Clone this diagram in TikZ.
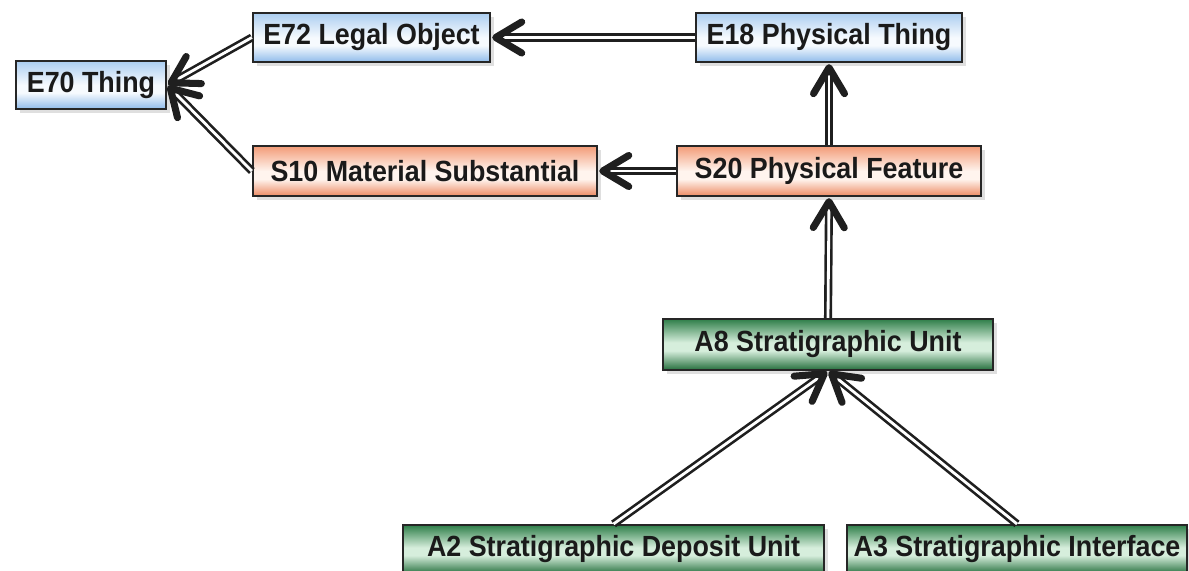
\documentclass[tikz,border=0pt]{standalone}
\usepackage{fontspec}
\setmainfont{Liberation Sans}[FakeStretch=0.92]
\usetikzlibrary{arrows.meta,shadows}
\definecolor{bluetop}{HTML}{ABCDF0}
\definecolor{bluemid}{HTML}{F6FAFE}
\definecolor{bluebot}{HTML}{8FBBEA}
\definecolor{ortop}{HTML}{F29B77}
\definecolor{ormid}{HTML}{FFF4EE}
\definecolor{orbot}{HTML}{EC8A63}
\definecolor{grtop}{HTML}{2F7E49}
\definecolor{grmid}{HTML}{D6EEDC}
\definecolor{grbot}{HTML}{246E3C}
\definecolor{txt}{HTML}{1A1A1A}
\pgfdeclareverticalshading{blueshade}{100bp}{color(0bp)=(bluebot); color(25bp)=(bluebot); color(42bp)=(bluemid); color(50bp)=(bluemid); color(75bp)=(bluetop); color(100bp)=(bluetop)}
\pgfdeclareverticalshading{orshade}{100bp}{color(0bp)=(orbot); color(25bp)=(orbot); color(42bp)=(ormid); color(50bp)=(ormid); color(75bp)=(ortop); color(100bp)=(ortop)}
\pgfdeclareverticalshading{grshade}{100bp}{color(0bp)=(grbot); color(25bp)=(grbot); color(44bp)=(grmid); color(52bp)=(grmid); color(75bp)=(grtop); color(100bp)=(grtop)}
\tikzset{
  box/.style={draw=black!85, line width=0.6pt, inner sep=0pt, text=txt,
    font=\fontsize{8.3}{9}\selectfont\bfseries,
    drop shadow={shadow xshift=1.2pt, shadow yshift=-1.2pt, opacity=0.25}},
  bluebox/.style={box, shading=blueshade, shading angle=0},
  orbox/.style={box, shading=orshade, shading angle=0},
  grbox/.style={box, shading=grshade, shading angle=0},
  isa/.style={draw=black!88, double=white, double distance=0.8pt, line width=0.75pt,
    -{Straight Barb[length=2.6mm, width=3.1mm, line width=2pt, round]},
    shorten >=0.3pt}
}
\begin{document}
\begin{tikzpicture}[x=0.01cm, y=-0.01cm]
\useasboundingbox (0,0) rectangle (1189,570);
\fill[white] (0,0) rectangle (1189,570);
\node[bluebox, minimum width=1.50cm, minimum height=0.48cm] (e70) at (91,85) {E70 Thing};
\node[bluebox, minimum width=2.37cm, minimum height=0.49cm] (e72) at (371.5,37.5) {E72 Legal Object};
\node[bluebox, minimum width=2.66cm, minimum height=0.49cm] (e18) at (829,37.5) {E18 Physical Thing};
\node[orbox, minimum width=3.44cm, minimum height=0.50cm] (s10) at (425,171) {S10 Material Substantial};
\node[orbox, minimum width=3.04cm, minimum height=0.50cm] (s20) at (829,171) {S20 Physical Feature};
\node[grbox, minimum width=3.30cm, minimum height=0.51cm] (a8) at (828,344.5) {A8 Stratigraphic Unit};
\node[grbox, minimum width=4.21cm, minimum height=0.49cm] (a2) at (613.5,549.5) {A2 Stratigraphic Deposit Unit};
\node[grbox, minimum width=3.40cm, minimum height=0.49cm] (a3) at (1017,549.5) {A3 Stratigraphic Interface};
\draw[isa] (e18.west) -- (e72.east);
\draw[isa] (e72.west) -- (e70.east);
\draw[isa] (s10.west) -- (e70.east);
\draw[isa] (s20.west) -- (s10.east);
\draw[isa] (s20.north) -- (e18.south);
\draw[isa] (a8.north) -- (s20.south);
\draw[isa] (a2.north) -- (a8.south);
\draw[isa] (a3.north) -- (a8.south);
\end{tikzpicture}
\end{document}
